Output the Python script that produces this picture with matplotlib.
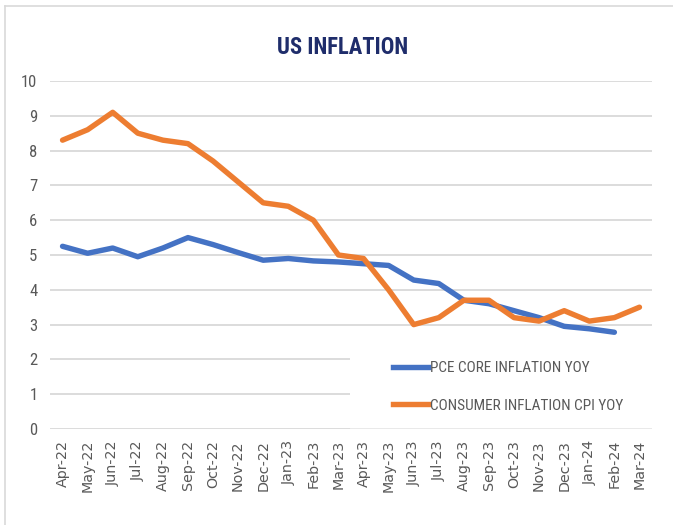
import matplotlib
matplotlib.use("Agg")
import matplotlib.pyplot as plt
from matplotlib.lines import Line2D
from matplotlib.patches import Rectangle
from matplotlib import font_manager

months = ["Apr-22", "May-22", "Jun-22", "Jul-22", "Aug-22", "Sep-22", "Oct-22", "Nov-22",
          "Dec-22", "Jan-23", "Feb-23", "Mar-23", "Apr-23", "May-23", "Jun-23", "Jul-23",
          "Aug-23", "Sep-23", "Oct-23", "Nov-23", "Dec-23", "Jan-24", "Feb-24", "Mar-24"]
pce_core = [5.25, 5.05, 5.2, 4.95, 5.2, 5.5, 5.3, 5.07, 4.85, 4.9, 4.83, 4.8,
            4.75, 4.7, 4.28, 4.18, 3.7, 3.6, 3.4, 3.2, 2.95, 2.88, 2.78]
cpi = [8.3, 8.6, 9.1, 8.5, 8.3, 8.2, 7.7, 7.1, 6.5, 6.4, 6.0, 5.0,
       4.9, 4.0, 3.0, 3.2, 3.7, 3.7, 3.2, 3.1, 3.4, 3.1, 3.2, 3.5]
yticks = list(range(0, 11))

names = {f.name for f in font_manager.fontManager.ttflist}
cands = ["Roboto Condensed", "Open Sans Condensed", "Liberation Sans Narrow", "Roboto", "DejaVu Sans"]
chosen = next(c for c in cands if c in names)
condensed = chosen in ("Roboto Condensed", "Open Sans Condensed", "Liberation Sans Narrow")
fam = [chosen, "DejaVu Sans"]
leg_size = 11.0 if condensed else 9.6
title_size = 16.3 if condensed else 14.5
ytick_size = 12 if condensed else 11

W, H = 673, 525
fig = plt.figure(figsize=(W / 100, H / 100), dpi=100)
fig.patch.set_facecolor("white")

# outer chart border
fig.add_artist(Line2D([5 / W, 5 / W], [0, (H - 6) / H], transform=fig.transFigure,
                      color="#D9D9D9", lw=1.2))
fig.add_artist(Line2D([5 / W, 1], [(H - 6) / H, (H - 6) / H], transform=fig.transFigure,
                      color="#D9D9D9", lw=1.2))

ax = fig.add_axes([50 / W, (H - 429) / H, 602 / W, 348 / H])
ax.set_xlim(-0.5, len(months) - 0.5)
ax.set_ylim(0, 10)
ax.set_yticks(yticks)
ax.set_yticklabels([str(v) for v in yticks], fontsize=ytick_size, color="#595959", family=fam)
ax.set_xticks(range(len(months)))
ax.set_xticklabels(months, rotation=90, fontsize=10.3, color="#595959")
ax.tick_params(length=0, pad=8)
ax.tick_params(axis="y", pad=9)
for s in ax.spines.values():
    s.set_visible(False)
ax.grid(axis="y", color="#D9D9D9", lw=1.3, zorder=0)
ax.set_axisbelow(True)

ax.plot(range(len(pce_core)), pce_core, color="#4472C4", lw=3.9,
        solid_joinstyle="round", solid_capstyle="round", zorder=3)
ax.plot(range(len(cpi)), cpi, color="#ED7D31", lw=3.9,
        solid_joinstyle="round", solid_capstyle="round", zorder=4)

# legend area (white box covering lower gridlines)
ax.add_patch(Rectangle((11.45, 0.02), 12.3, 2.65, facecolor="white", edgecolor="none",
                       zorder=1, transform=ax.transData, clip_on=False))
ax.axhline(0, color="#EBEBEB", lw=1.3, zorder=1.5, xmin=0.5)

handles = [Line2D([], [], color="#4472C4", lw=3.9),
           Line2D([], [], color="#ED7D31", lw=3.9)]
hl_pts = 35 / (leg_size * 100 / 72)
leg = ax.legend(handles, ["PCE CORE INFLATION YOY", "CONSUMER INFLATION CPI YOY"],
                loc="center left",
                bbox_to_anchor=((393 - 50) / 602, 1 - (387 - 81) / 348),
                frameon=False, handlelength=hl_pts, handletextpad=0.12,
                labelspacing=(39 - leg_size * 1.39) / (leg_size * 1.39),
                prop={"family": fam, "size": leg_size}, borderaxespad=0, borderpad=0)
for t in leg.get_texts():
    t.set_color("#595959")

fig.text(343 / W, 1 - 47 / H, "US INFLATION", ha="center", va="center",
         fontsize=title_size, fontweight="bold", color="#1F2D6B", family=fam)

fig.savefig("out.png", dpi=100, facecolor="white")
